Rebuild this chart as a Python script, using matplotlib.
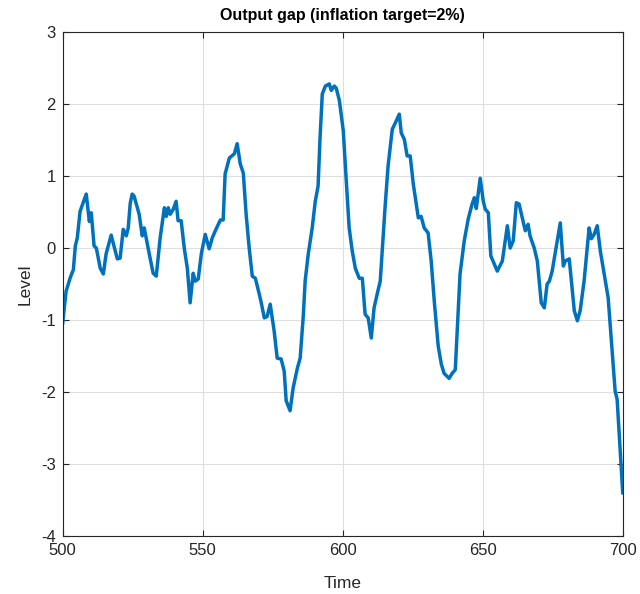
import matplotlib
matplotlib.use("Agg")
import matplotlib.pyplot as plt

time = [500.0, 501.2, 502.7, 503.8, 504.5, 505.2, 506.2, 508.4, 509.5, 510.2,
        511.2, 512.0, 513.4, 514.5, 515.5, 517.3, 519.5, 520.5, 521.6, 522.7,
        523.4, 524.1, 524.8, 525.5, 527.3, 528.4, 529.1, 530.9, 532.3, 533.4,
        534.8, 536.3, 537.0, 537.7, 538.4, 539.5, 540.5, 541.2, 542.3, 543.4,
        544.5, 545.5, 546.6, 547.3, 548.4, 549.5, 550.9, 552.3, 553.4, 554.5,
        556.3, 557.3, 558.0, 559.5, 561.3, 562.3, 563.4, 564.5, 565.5, 566.6,
        567.7, 568.8, 570.2, 570.9, 572.0, 573.0, 574.1, 575.5, 576.6, 578.0,
        579.1, 579.8, 581.2, 582.3, 583.8, 584.8, 585.9, 586.6, 587.7, 589.1,
        590.2, 591.2, 591.9, 592.7, 593.8, 595.2, 595.9, 597.0, 597.7, 598.8,
        600.2, 600.9, 602.3, 603.4, 604.5, 605.9, 607.0, 608.0, 609.1, 610.2,
        611.2, 612.3, 613.4, 614.1, 615.2, 616.2, 617.7, 618.8, 620.2, 620.9,
        622.0, 623.0, 624.1, 625.2, 627.0, 628.0, 629.1, 630.5, 631.6, 632.7,
        634.1, 635.2, 636.2, 638.0, 639.1, 640.2, 641.2, 641.9, 643.4, 644.8,
        646.2, 647.0, 647.7, 649.1, 650.2, 650.9, 652.0, 652.9, 654.1, 655.2,
        657.0, 658.8, 659.8, 660.9, 662.0, 663.0, 665.2, 666.2, 666.9, 668.4,
        669.5, 670.9, 672.0, 673.0, 673.8, 674.8, 677.7, 678.8, 679.5, 680.9,
        682.7, 683.8, 684.8, 686.2, 688.0, 688.8, 689.8, 690.9, 692.0, 694.8,
        697.3, 698.0, 700.0]

output_gap = [-1.04, -0.60, -0.41, -0.30, 0.03, 0.14, 0.51, 0.75, 0.37, 0.49,
              0.03, 0.00, -0.28, -0.36, -0.08, 0.18, -0.15, -0.14, 0.26, 0.17,
              0.28, 0.62, 0.75, 0.72, 0.47, 0.17, 0.28, -0.08, -0.35, -0.39,
              0.14, 0.56, 0.44, 0.56, 0.47, 0.54, 0.65, 0.38, 0.38, 0.00,
              -0.28, -0.76, -0.35, -0.46, -0.43, -0.08, 0.19, -0.01, 0.14, 0.24,
              0.39, 0.39, 1.03, 1.25, 1.31, 1.45, 1.17, 1.04, 0.47, 0.00,
              -0.39, -0.42, -0.64, -0.76, -0.97, -0.95, -0.78, -1.15, -1.53, -1.54,
              -1.71, -2.12, -2.26, -1.94, -1.67, -1.53, -0.95, -0.45, -0.08, 0.28,
              0.65, 0.86, 1.53, 2.14, 2.25, 2.28, 2.19, 2.25, 2.22, 2.05,
              1.63, 1.17, 0.28, -0.04, -0.28, -0.42, -0.42, -0.92, -0.97, -1.25,
              -0.83, -0.64, -0.46, -0.04, 0.61, 1.14, 1.65, 1.74, 1.86, 1.60,
              1.51, 1.28, 1.28, 0.89, 0.42, 0.44, 0.28, 0.21, -0.18, -0.74,
              -1.36, -1.61, -1.74, -1.81, -1.74, -1.69, -0.92, -0.36, 0.10, 0.40,
              0.61, 0.70, 0.55, 0.97, 0.65, 0.54, 0.49, -0.11, -0.22, -0.32,
              -0.18, 0.31, 0.00, 0.10, 0.63, 0.61, 0.24, 0.33, 0.17, 0.00,
              -0.18, -0.76, -0.83, -0.50, -0.46, -0.32, 0.35, -0.25, -0.18, -0.15,
              -0.87, -1.01, -0.87, -0.46, 0.28, 0.13, 0.19, 0.31, -0.04, -0.69,
              -1.99, -2.10, -3.40]

x_ticks = [500, 550, 600, 650, 700]
y_ticks = [-4, -3, -2, -1, 0, 1, 2, 3]

plt.rcParams['font.family'] = ['Liberation Sans', 'DejaVu Sans']
plt.rcParams['axes.unicode_minus'] = False

fig = plt.figure(figsize=(6.4, 5.94), dpi=100)
ax = fig.add_axes([0.098, 0.0976, 0.875, 0.8484])

ax.plot(time, output_gap, color='#0072BD', linewidth=2.5)

ax.set_xlim(500, 700)
ax.set_ylim(-4, 3)
ax.set_xticks(x_ticks)
ax.set_yticks(y_ticks)
ax.grid(True, color='#dfdfdf', linewidth=0.8)
ax.set_axisbelow(True)

for s in ax.spines.values():
    s.set_color('#262626')
    s.set_linewidth(0.8)
ax.tick_params(direction='in', length=4, width=0.8, colors='#262626',
               labelsize=12, top=True, right=True, pad=5)

ax.set_xlabel('Time', fontsize=12.5, color='#262626', labelpad=13)
ax.set_ylabel('Level', fontsize=12.5, color='#262626', labelpad=6)
ax.set_title('Output gap (inflation target=2%)', fontsize=11.5,
             fontweight='bold', color='black', pad=9)

fig.savefig('out.png', dpi=100)
